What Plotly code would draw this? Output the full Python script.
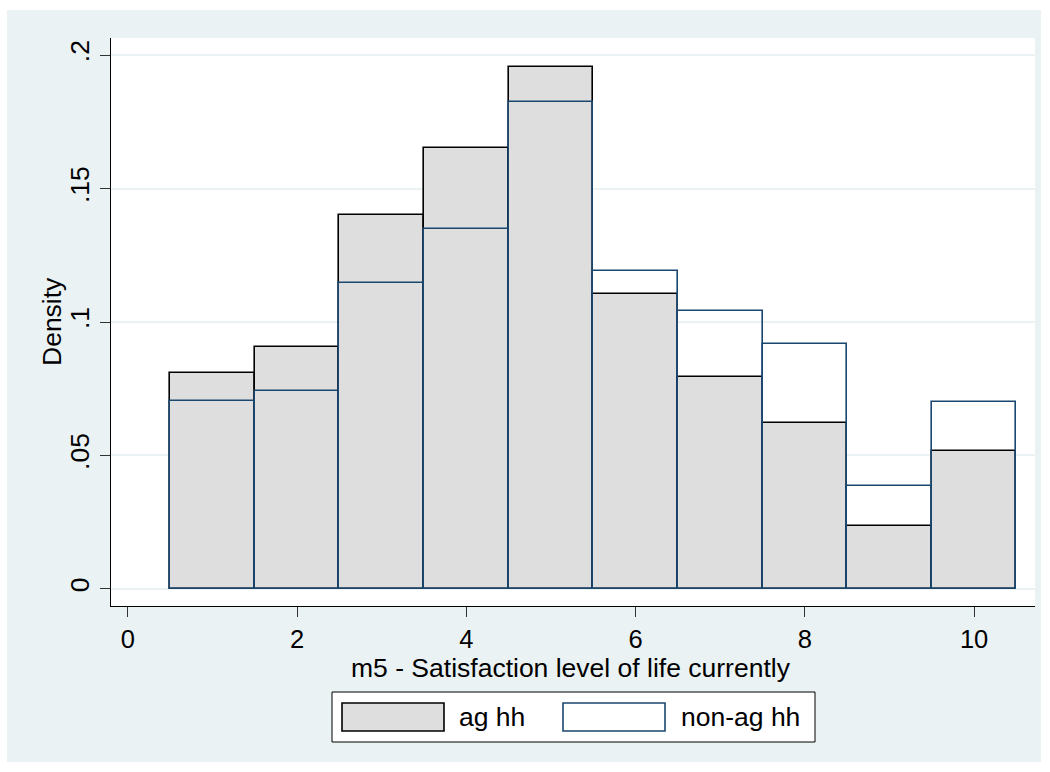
import plotly.graph_objects as go

# Data
bins = [1, 2, 3, 4, 5, 6, 7, 8, 9, 10]
ag_density = [0.0809, 0.0906, 0.1401, 0.1652, 0.1955, 0.1105, 0.0795, 0.0621, 0.0237, 0.0518]
nonag_density = [0.0704, 0.0741, 0.1146, 0.1348, 0.1825, 0.1191, 0.1041, 0.0918, 0.0386, 0.0699]
ytick_vals = [0, 0.05, 0.1, 0.15, 0.2]
ytick_text = ["0", ".05", ".1", ".15", ".2"]
xtick_vals = [0, 2, 4, 6, 8, 10]
series_names = ["ag hh", "non-ag hh"]
x_title = "m5 - Satisfaction level of life currently"
y_title = "Density"

BG = "#EAF2F3"
NAVY = "#1A476F"
GRAY = "#DEDEDE"
FONT = "Liberation Sans, Arial, sans-serif"
FS = 26.5

fig = go.Figure()
fig.add_trace(go.Bar(x=bins, y=ag_density, width=1, name=series_names[0],
                     marker=dict(color=GRAY, line=dict(color="black", width=1.6)),
                     showlegend=False))
fig.add_trace(go.Bar(x=bins, y=nonag_density, width=1, name=series_names[1],
                     marker=dict(color="rgba(0,0,0,0)", line=dict(color=NAVY, width=1.6)),
                     showlegend=False))

L, R, T, B = 111, 15, 38, 166
W, H = 1050, 772
pw, ph = W - L - R, H - T - B

def px(x):
    return (x - L) / pw

def py(y):
    return (H - B - y) / ph

shapes = [
    dict(type="rect", xref="paper", yref="paper", x0=px(7), x1=px(1041), y0=py(762), y1=py(10),
         fillcolor=BG, line=dict(width=0), layer="below"),
    dict(type="rect", xref="paper", yref="paper", x0=0, x1=1, y0=0, y1=1,
         fillcolor="white", line=dict(width=0), layer="below"),
    # legend box
    dict(type="rect", xref="paper", yref="paper", x0=px(332), x1=px(815), y0=py(742), y1=py(692),
         fillcolor="white", line=dict(color="black", width=1)),
    dict(type="rect", xref="paper", yref="paper", x0=px(342), x1=px(444), y0=py(731), y1=py(703),
         fillcolor=GRAY, line=dict(color="black", width=1.6)),
    dict(type="rect", xref="paper", yref="paper", x0=px(563), x1=px(665), y0=py(731), y1=py(703),
         fillcolor="white", line=dict(color=NAVY, width=1.6)),
]

annotations = [
    dict(xref="paper", yref="paper", x=px(457), y=py(717), text=series_names[0], showarrow=False,
         xanchor="left", yanchor="middle", font=dict(family=FONT, size=FS, color="black")),
    dict(xref="paper", yref="paper", x=px(679), y=py(717), text=series_names[1], showarrow=False,
         xanchor="left", yanchor="middle", font=dict(family=FONT, size=FS, color="black")),
    dict(xref="paper", yref="paper", x=px(52), y=py(322), text=y_title, showarrow=False,
         textangle=-90, xanchor="center", yanchor="middle",
         font=dict(family=FONT, size=FS, color="black")),
    dict(xref="paper", yref="paper", x=px(571), y=py(668), text=x_title, showarrow=False,
         xanchor="center", yanchor="middle", borderpad=0,
         font=dict(family=FONT, size=FS, color="black")),
]

fig.update_layout(
    width=W, height=H,
    margin=dict(l=L, r=R, t=T, b=B),
    paper_bgcolor="white", plot_bgcolor="white",
    barmode="overlay", bargap=0,
    font=dict(family=FONT, size=FS, color="black"),
    shapes=shapes, annotations=annotations,
    xaxis=dict(range=[-0.2, 10.72], tickvals=xtick_vals, showgrid=False, zeroline=False,
               showline=True, linecolor="black", linewidth=1, tickfont=dict(size=25.5),
               ticks="outside", ticklen=10, tickcolor="#333333"),
    yaxis=dict(range=[-0.0064, 0.2064], tickvals=ytick_vals, ticktext=ytick_text, tickangle=-90,
               showgrid=True, gridcolor=BG, gridwidth=1.5, zeroline=False,
               showline=True, linecolor="black", linewidth=1,
               ticks="outside", ticklen=10, tickcolor="#333333"),
)

fig.write_html("out.html", config={"displayModeBar": False},
               post_script="document.body.style.margin='0px';")
